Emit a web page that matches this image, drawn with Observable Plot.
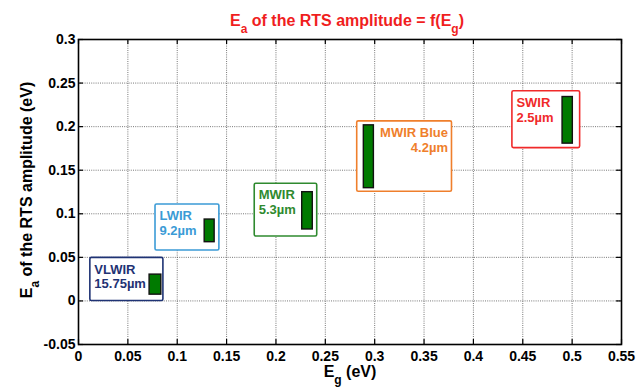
<!DOCTYPE html>
<html>
<head>
<meta charset="utf-8">
<script src="https://cdn.jsdelivr.net/npm/d3@7"></script>
<script src="https://cdn.jsdelivr.net/npm/@observablehq/plot@0.6"></script>
<style>
  html, body { margin: 0; padding: 0; background: white; }
</style>
</head>
<body>
<div id="chart"></div>
<script>
// Data
const bands = ["VLWIR", "LWIR", "MWIR", "MWIR Blue", "SWIR"];
const wavelengths = ["15.75µm", "9.2µm", "5.3µm", "4.2µm", "2.5µm"];
// label-box extents (Eg in eV, Ea in eV)
const boxX1 = [0.012, 0.078, 0.1785, 0.2823, 0.4395];
const boxX2 = [0.086, 0.1427, 0.2418, 0.3783, 0.5081];
const boxY1 = [0.0, 0.0578, 0.0739, 0.1253, 0.1754];
const boxY2 = [0.0494, 0.1107, 0.1345, 0.2061, 0.2406];
// Ea range bars
const barX1 = [0.072, 0.1278, 0.2266, 0.289, 0.4903];
const barX2 = [0.0839, 0.1379, 0.2373, 0.2992, 0.5007];
const barY1 = [0.0072, 0.0674, 0.082, 0.1294, 0.1805];
const barY2 = [0.0302, 0.0934, 0.1248, 0.2015, 0.234];
const bandColors = ["#1f3374", "#3b9bd6", "#2f8a2f", "#ef7f2c", "#f02a2a"];
// ticks
const xTicks = [0, 0.05, 0.1, 0.15, 0.2, 0.25, 0.3, 0.35, 0.4, 0.45, 0.5, 0.55];
const yTicks = [-0.05, 0, 0.05, 0.1, 0.15, 0.2, 0.25, 0.3];

const W = 637, H = 387, mL = 78, mR = 16, mT = 39, mB = 43;
const innerW = W - mL - mR, innerH = H - mT - mB;
const FONT = "'Liberation Sans', Arial, Helvetica, sans-serif";
const fmt = d => String(+d.toFixed(2));
const idx = d3.range(bands.length);

const chart = Plot.plot({
  width: W, height: H,
  marginLeft: mL, marginRight: mR, marginTop: mT, marginBottom: mB,
  x: {domain: [0, 0.55]},
  y: {domain: [-0.05, 0.3]},
  style: {fontFamily: FONT, background: "white", color: "black"},
  marks: [
    // dotted grid
    Plot.ruleX(xTicks, {x: d => d, stroke: "#555", strokeWidth: 0.8, strokeDasharray: "1,1.2"}),
    Plot.ruleY(yTicks, {y: d => d, stroke: "#555", strokeWidth: 0.8, strokeDasharray: "1,1.2"}),
    // inward ticks on all four sides
    Plot.ruleX(xTicks, {x: d => d, insetTop: innerH - 5, stroke: "black", strokeWidth: 1.2}),
    Plot.ruleX(xTicks, {x: d => d, insetBottom: innerH - 5, stroke: "black", strokeWidth: 1.2}),
    Plot.ruleY(yTicks, {y: d => d, insetRight: innerW - 5, stroke: "black", strokeWidth: 1.2}),
    Plot.ruleY(yTicks, {y: d => d, insetLeft: innerW - 5, stroke: "black", strokeWidth: 1.2}),
    // label boxes
    Plot.rect(idx, {
      x1: i => boxX1[i], x2: i => boxX2[i], y1: i => boxY1[i], y2: i => boxY2[i],
      fill: "white", stroke: i => bandColors[i], strokeWidth: 1.6, rx: 1.5
    }),
    // Ea bars
    Plot.rect(idx, {
      x1: i => barX1[i], x2: i => barX2[i], y1: i => barY1[i], y2: i => barY2[i],
      fill: "#007a00", stroke: "#111", strokeWidth: 1.4
    }),
    // labels (left aligned)
    Plot.text(idx.filter(i => bands[i] !== "MWIR Blue"), {
      x: i => boxX1[i], y: i => boxY2[i],
      text: i => bands[i] + "\n" + wavelengths[i],
      fill: i => bandColors[i],
      textAnchor: "start", lineAnchor: "top", lineHeight: 1.15,
      dx: 4, dy: 5, fontSize: 13, fontWeight: "bold"
    }),
    // label (right aligned)
    Plot.text(idx.filter(i => bands[i] === "MWIR Blue"), {
      x: i => boxX2[i], y: i => boxY2[i],
      text: i => bands[i] + "\n" + wavelengths[i],
      fill: i => bandColors[i],
      textAnchor: "end", lineAnchor: "top", lineHeight: 1.15,
      dx: -4, dy: 5, fontSize: 13, fontWeight: "bold"
    }),
    Plot.axisX({ticks: xTicks, tickSize: 0, tickPadding: 7, tickFormat: fmt,
      fontSize: 14, fontWeight: "bold", label: null}),
    Plot.axisY({ticks: yTicks, tickSize: 0, tickPadding: 3, tickFormat: fmt,
      fontSize: 14, fontWeight: "bold", label: null}),
    Plot.frame({stroke: "black", strokeWidth: 1.6})
  ]
});

document.getElementById("chart").appendChild(chart);

// Title and axis labels with subscripts
const svg = d3.select(chart);
function subText(sel, parts) {
  let shift = 0;
  parts.forEach(([t, sub]) => {
    const ts = sel.append("tspan").text(t);
    if (sub) {
      ts.attr("dy", 7 - shift).attr("font-size", 12);
      shift = 7;
    } else {
      if (shift) ts.attr("dy", -shift);
      shift = 0;
    }
  });
}
const title = svg.append("text")
  .attr("x", 347).attr("y", 26)
  .attr("text-anchor", "middle")
  .attr("fill", "#f01e1e").attr("font-size", 16).attr("font-weight", "bold")
  .attr("font-family", FONT);
subText(title, [["E"], ["a", true], [" of the RTS amplitude = f(E"], ["g", true], [")"]]);

const xlab = svg.append("text")
  .attr("x", 350).attr("y", 377)
  .attr("text-anchor", "middle")
  .attr("fill", "black").attr("font-size", 16).attr("font-weight", "bold")
  .attr("font-family", FONT);
subText(xlab, [["E"], ["g", true], [" (eV)"]]);

const ylab = svg.append("text")
  .attr("transform", "translate(32,190) rotate(-90)")
  .attr("text-anchor", "middle")
  .attr("fill", "black").attr("font-size", 16).attr("font-weight", "bold")
  .attr("font-family", FONT);
subText(ylab, [["E"], ["a", true], [" of the RTS amplitude (eV)"]]);
</script>
</body>
</html>
